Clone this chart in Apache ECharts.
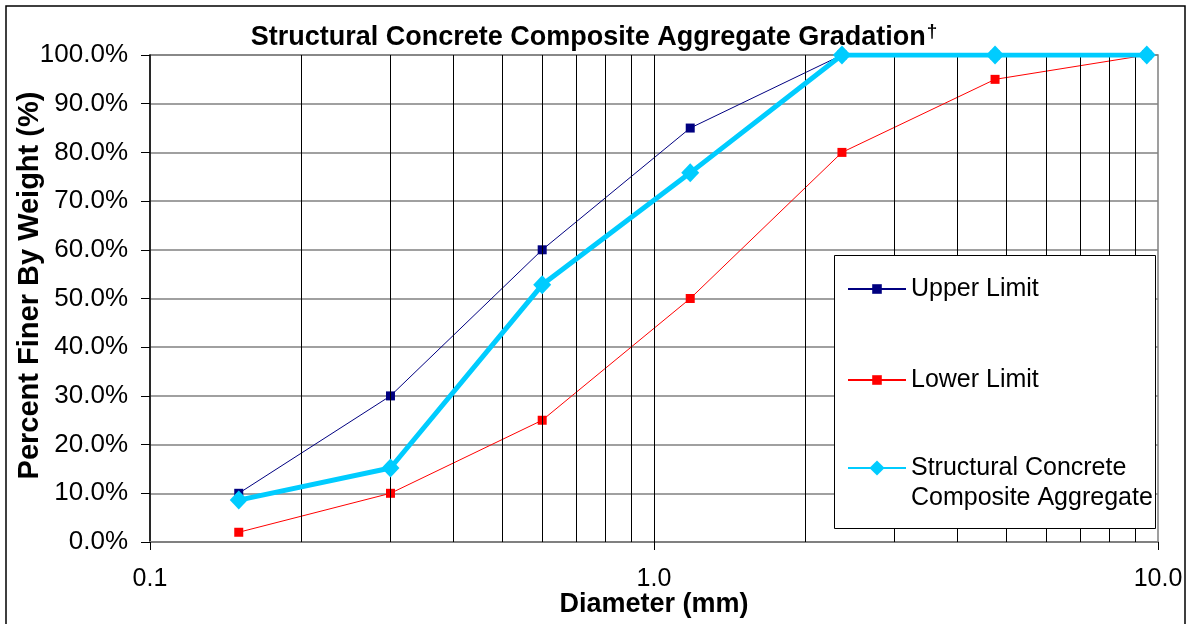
<!DOCTYPE html>
<html>
<head>
<meta charset="utf-8">
<script src="https://cdn.jsdelivr.net/npm/echarts@6/dist/echarts.min.js"></script>
<style>
html,body{margin:0;padding:0;background:#fff;}
#chart{width:1188px;height:624px;}
</style>
</head>
<body>
<div id="chart"></div>
<script>
// Sieve sizes (mm)
const diameters = [0.15, 0.3, 0.6, 1.18, 2.36, 4.75, 9.5];
// Percent finer by weight
const upperLimit = [10, 30, 60, 85, 100, 100, 100];
const lowerLimit = [2, 10, 25, 50, 80, 95, 100];
const composite = [8.6, 15.2, 52.8, 75.8, 100, 100, 100];
// Log-axis minor gridline positions
const minorGrid = [0.2, 0.3, 0.4, 0.5, 0.6, 0.7, 0.8, 0.9, 1, 2, 3, 4, 5, 6, 7, 8, 9];
const seriesNames = ['Upper Limit', 'Lower Limit', 'Structural Concrete Composite Aggregate'];

const FONT = '"Liberation Sans", Arial, sans-serif';
const pair = ys => diameters.map((d, i) => [d, ys[i]]);

const chart = echarts.init(document.getElementById('chart'));
const legendBase = {
  orient: 'vertical', left: 842, itemWidth: 58, z: 100,
  textStyle: {fontFamily: FONT, fontSize: 25, color: '#000', lineHeight: 30},
  selectedMode: false
};
chart.setOption({
  animation: false,
  backgroundColor: '#fff',
  title: {
    text: '{t|Structural Concrete Composite Aggregate Gradation}{s|†}',
    left: 'center', top: 17,
    textStyle: {
      rich: {
        t: {fontFamily: FONT, fontSize: 27, fontWeight: 'bold', color: '#000', lineHeight: 32},
        s: {fontFamily: FONT, fontSize: 19, fontWeight: 'bold', color: '#000', verticalAlign: 'top', padding: [0, 0, 12, 1]}
      }
    }
  },
  grid: {left: 150, right: 30, top: 55, bottom: 82, show: true, borderColor: '#808080', borderWidth: 1.5,
         containLabel: false, outerBoundsMode: 'none'},
  xAxis: {
    type: 'log', logBase: 10, min: 0.1, max: 10,
    name: 'Diameter (mm)', nameLocation: 'middle', nameGap: 49, nameMoveOverlap: false,
    nameTextStyle: {fontFamily: FONT, fontSize: 27, fontWeight: 'bold', color: '#000'},
    axisLine: {lineStyle: {color: '#808080', width: 2}},
    axisTick: {length: 8, lineStyle: {color: '#000'}},
    axisLabel: {fontFamily: FONT, fontSize: 25, color: '#000', margin: 25, formatter: v => v.toFixed(1)},
    splitLine: {show: false}
  },
  yAxis: {
    type: 'value', min: 0, max: 100, interval: 10,
    name: 'Percent Finer By Weight (%)', nameLocation: 'middle', nameGap: 106, nameRotate: 90, nameMoveOverlap: false,
    nameTextStyle: {fontFamily: FONT, fontSize: 29, fontWeight: 'bold', color: '#000', padding: [0, 0, 0, 26]},
    axisLine: {show: true, lineStyle: {color: '#000', width: 1.5}},
    axisTick: {show: true, length: 9, lineStyle: {color: '#000'}},
    axisLabel: {fontFamily: FONT, fontSize: 26, color: '#000', margin: 22, formatter: v => v.toFixed(1) + '%'},
    splitLine: {show: true, lineStyle: {color: '#808080', width: 1.5}}
  },
  legend: [
    Object.assign({}, legendBase, {top: 269, itemHeight: 12, data: [seriesNames[0]]}),
    Object.assign({}, legendBase, {top: 360, itemHeight: 12, data: [seriesNames[1]]}),
    Object.assign({}, legendBase, {top: 418, itemHeight: 19,
      formatter: () => ' \nStructural Concrete\nComposite Aggregate',
      data: [seriesNames[2]]})
  ],
  graphic: [
    {type: 'rect', z: 50, shape: {x: 834.5, y: 255.5, width: 321, height: 273},
     style: {fill: '#fff', stroke: '#000', lineWidth: 1}},
    {type: 'rect', z: 0, silent: true, shape: {x: 6, y: 6, width: 1179, height: 640},
     style: {fill: 'none', stroke: '#000', lineWidth: 1.5}}
  ],
  series: [
    {
      name: 'grid', type: 'line', data: [], z: 1, silent: true,
      markLine: {
        silent: true, symbol: 'none', animation: false,
        label: {show: false},
        lineStyle: {color: '#000', width: 1, type: 'solid'},
        data: minorGrid.map(v => ({xAxis: v}))
      }
    },
    {
      name: seriesNames[1], type: 'line', data: pair(lowerLimit), z: 3,
      symbol: 'rect', symbolSize: 9,
      lineStyle: {color: '#FF0000', width: 1}, itemStyle: {color: '#FF0000'}
    },
    {
      name: seriesNames[0], type: 'line', data: pair(upperLimit), z: 4,
      symbol: 'rect', symbolSize: 9,
      lineStyle: {color: '#000080', width: 1}, itemStyle: {color: '#000080'}
    },
    {
      name: seriesNames[2], type: 'line', data: pair(composite), z: 5,
      symbol: 'diamond', symbolSize: [18, 19],
      lineStyle: {color: '#00CCFF', width: 5}, itemStyle: {color: '#00CCFF'}
    }
  ]
});
</script>
</body>
</html>
